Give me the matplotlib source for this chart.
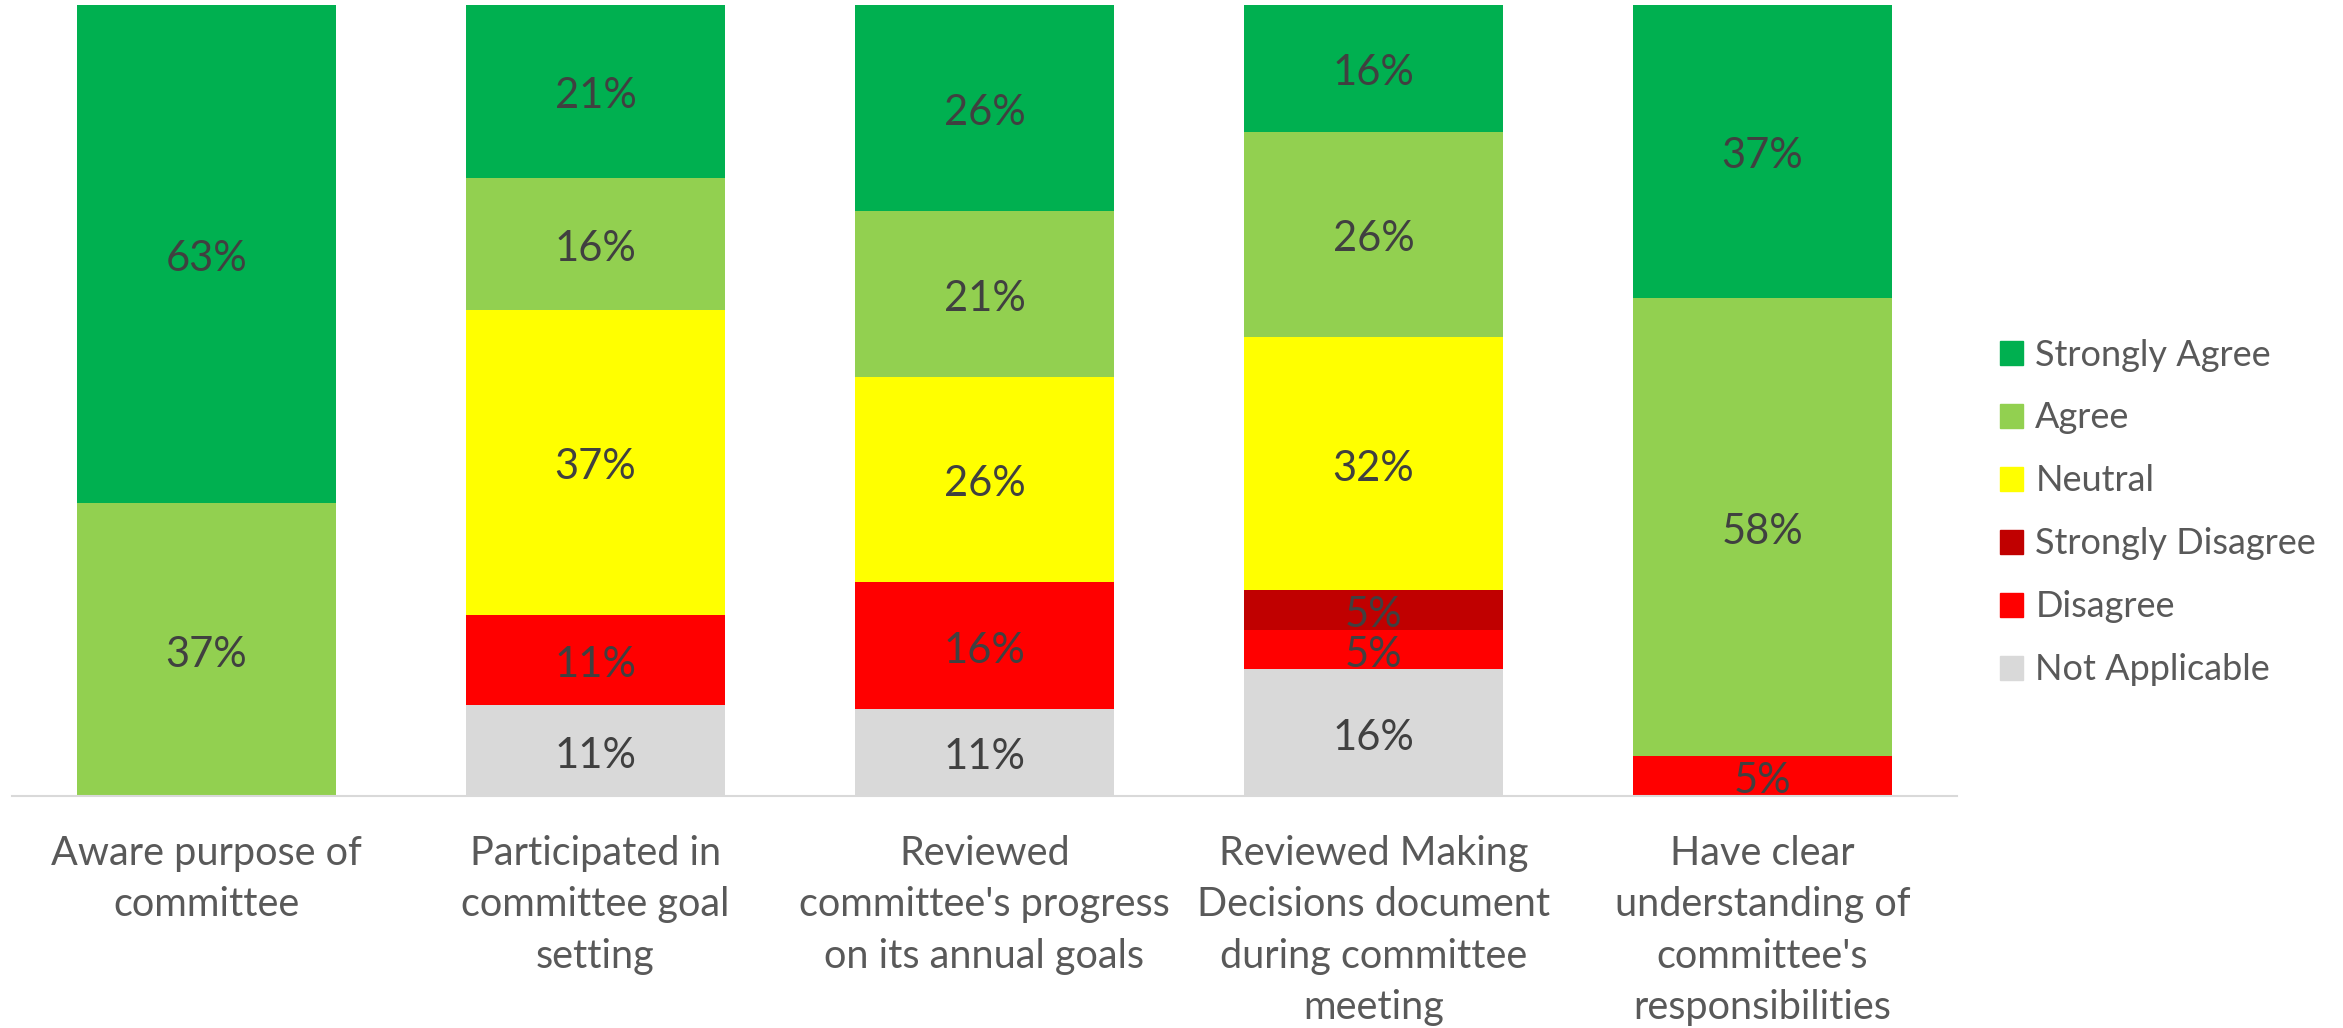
import matplotlib
matplotlib.use("Agg")
import matplotlib.pyplot as plt
from matplotlib.patches import Patch
import numpy as np

categories = [
    "Aware purpose of\ncommittee",
    "Participated in\ncommittee goal\nsetting",
    "Reviewed\ncommittee's progress\non its annual goals",
    "Reviewed Making\nDecisions document\nduring committee\nmeeting",
    "Have clear\nunderstanding of\ncommittee's\nresponsibilities",
]

# stacked bottom -> top
series_names = ["Not Applicable", "Disagree", "Strongly Disagree", "Neutral", "Agree", "Strongly Agree"]
not_applicable = [0, 11, 11, 16, 0]
disagree = [0, 11, 16, 5, 5]
strongly_disagree = [0, 0, 0, 5, 0]
neutral = [0, 37, 26, 32, 0]
agree = [37, 16, 21, 26, 58]
strongly_agree = [63, 21, 26, 16, 37]

colors = ["#D9D9D9", "#FF0000", "#C00000", "#FFFF00", "#92D050", "#00B050"]

plt.rcParams["font.family"] = ["Lato", "DejaVu Sans"]

fig = plt.figure(figsize=(23.43, 10.28), dpi=100)
ax = fig.add_axes([12 / 2343, 1 - 796 / 1028, 1945 / 2343, 791 / 1028])

data = np.array([not_applicable, disagree, strongly_disagree, neutral, agree, strongly_agree], dtype=float)
totals = data.sum(axis=0)
shares = data / totals  # 100% stacked

x = np.arange(len(categories))
bottom = np.zeros(len(categories))
for name, vals, sh, col in zip(series_names, data, shares, colors):
    ax.bar(x, sh, 0.666, bottom=bottom, color=col, label=name, linewidth=0)
    for xi, v, s, b in zip(x, vals, sh, bottom):
        if v > 0:
            ax.annotate("{:.0f}%".format(v), (xi, b + s / 2), xytext=(0, -3.5),
                        textcoords="offset points", ha="center", va="center",
                        fontsize=30, color="#404040")
    bottom += sh

ax.set_xlim(-0.5, len(categories) - 0.5)
ax.set_ylim(0, 1)
ax.set_yticks([])
ax.set_xticks(x)
ax.set_xticklabels(categories, fontsize=28.5, color="#595959", linespacing=1.48)
ax.tick_params(axis="x", length=0, pad=28)
for s in ["top", "right", "left"]:
    ax.spines[s].set_visible(False)
ax.spines["bottom"].set_color("#D9D9D9")
ax.spines["bottom"].set_linewidth(1.5)

handles = [Patch(color=c, label=n) for n, c in zip(series_names, colors)][::-1]
fig.legend(handles=handles, loc="center left", bbox_to_anchor=(2000 / 2343, 0.5015),
           frameon=False, fontsize=26, labelcolor="#595959",
           handlelength=0.63, handleheight=0.63, handletextpad=0.35,
           labelspacing=0.83, borderpad=0, borderaxespad=0)

fig.savefig("out.png", dpi=100)
